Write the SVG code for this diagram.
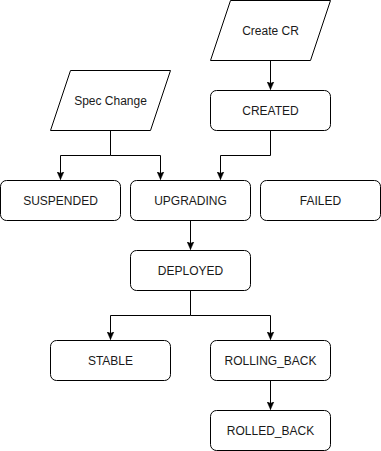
<svg xmlns="http://www.w3.org/2000/svg" width="381" height="451" viewBox="0 0 381 451">
  <style>
    .shape { fill: #ffffff; stroke: #000000; stroke-width: 1; }
    .label { font-family: "Liberation Sans", Arial, Helvetica, sans-serif; font-size: 12px; fill: #1a1a1a; text-anchor: middle; dominant-baseline: central; }
    .edge { fill: none; stroke: #000000; stroke-width: 1; }
  </style>
  <defs>
    <marker id="arrow" viewBox="0 0 8 8" refX="8" refY="4" markerWidth="8" markerHeight="8" markerUnits="userSpaceOnUse" orient="auto">
      <path d="M0,0.5 L8,4 L0,7.5 L2,4 Z" fill="#000000" stroke="#000000" stroke-width="0.5"/>
    </marker>
  </defs>
  <rect width="381" height="451" fill="#ffffff"/>
  <g transform="translate(0.5,0.5)">
    <g id="connectors">
      <path class="edge" d="M270,60 L270,89" marker-end="url(#arrow)"/>
      <path class="edge" d="M110,130 L110,155 L60,155 L60,179" marker-end="url(#arrow)"/>
      <path class="edge" d="M110,155 L160,155 L160,179" marker-end="url(#arrow)"/>
      <path class="edge" d="M270,130 L270,155 L220,155 L220,179" marker-end="url(#arrow)"/>
      <path class="edge" d="M190,220 L190,249" marker-end="url(#arrow)"/>
      <path class="edge" d="M190,290 L190,315 L110,315 L110,339" marker-end="url(#arrow)"/>
      <path class="edge" d="M190,315 L270,315 L270,339" marker-end="url(#arrow)"/>
      <path class="edge" d="M270,380 L270,409" marker-end="url(#arrow)"/>
    </g>
    <g id="create-cr">
      <polygon class="shape" points="210,60 230,0 330,0 310,60"/>
      <text class="label" x="270" y="30">Create CR</text>
    </g>
    <g id="spec-change">
      <polygon class="shape" points="50,130 70,70 170,70 150,130"/>
      <text class="label" x="110" y="100">Spec Change</text>
    </g>
    <g id="created">
      <rect class="shape" x="210" y="90" width="120" height="40" rx="6" ry="6"/>
      <text class="label" x="270" y="110">CREATED</text>
    </g>
    <g id="suspended">
      <rect class="shape" x="0" y="180" width="120" height="40" rx="6" ry="6"/>
      <text class="label" x="60" y="200">SUSPENDED</text>
    </g>
    <g id="upgrading">
      <rect class="shape" x="130" y="180" width="120" height="40" rx="6" ry="6"/>
      <text class="label" x="190" y="200">UPGRADING</text>
    </g>
    <g id="failed">
      <rect class="shape" x="260" y="180" width="120" height="40" rx="6" ry="6"/>
      <text class="label" x="320" y="200">FAILED</text>
    </g>
    <g id="deployed">
      <rect class="shape" x="130" y="250" width="120" height="40" rx="6" ry="6"/>
      <text class="label" x="190" y="270">DEPLOYED</text>
    </g>
    <g id="stable">
      <rect class="shape" x="50" y="340" width="120" height="40" rx="6" ry="6"/>
      <text class="label" x="110" y="360">STABLE</text>
    </g>
    <g id="rolling-back">
      <rect class="shape" x="210" y="340" width="120" height="40" rx="6" ry="6"/>
      <text class="label" x="270" y="360">ROLLING_BACK</text>
    </g>
    <g id="rolled-back">
      <rect class="shape" x="210" y="410" width="120" height="40" rx="6" ry="6"/>
      <text class="label" x="270" y="430">ROLLED_BACK</text>
    </g>
  </g>
</svg>
